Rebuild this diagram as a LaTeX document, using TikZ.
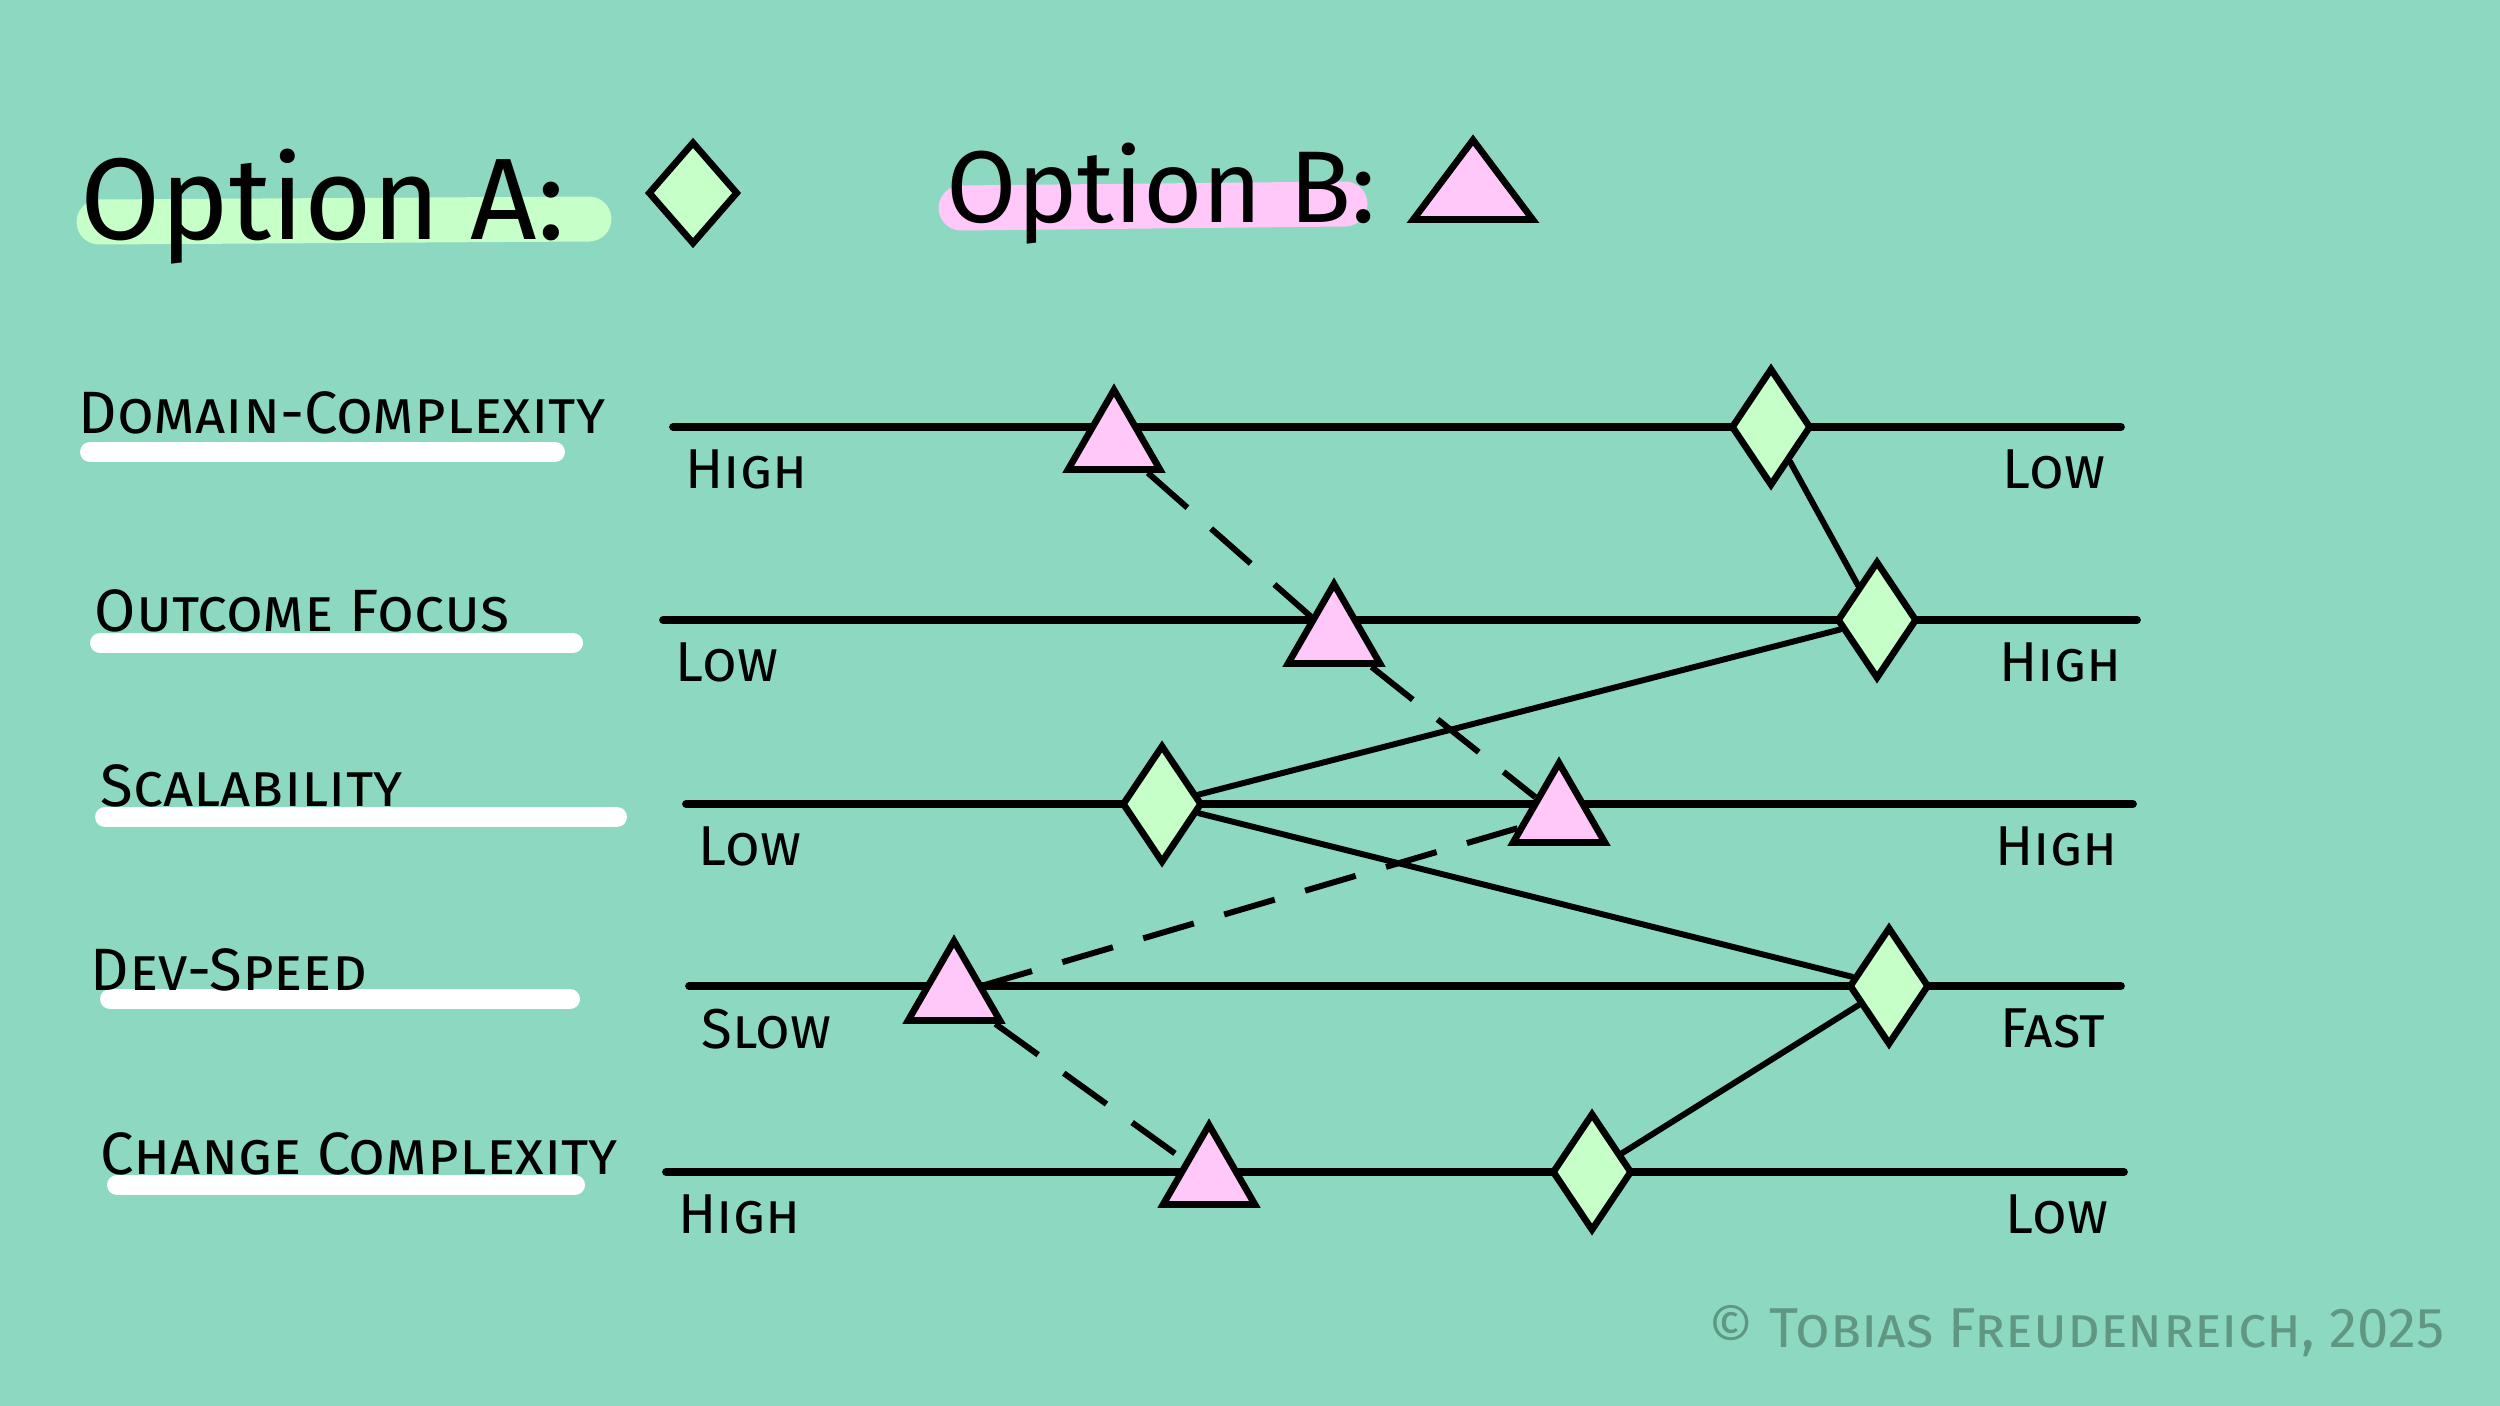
\documentclass[tikz,border=0pt]{standalone}
\usepackage{fontspec}
\setmainfont{Fira Sans}
\usetikzlibrary{shapes.geometric, positioning}

\definecolor{bgmint}{HTML}{8DD8C0}
\definecolor{optgreen}{HTML}{C6FFC8}
\definecolor{optpink}{HTML}{FFC8F9}
\definecolor{signteal}{HTML}{5F9783}

\begin{document}
\begin{tikzpicture}[
  axis/.style={line width=2.2pt, line cap=round},
  optA/.style={diamond, draw, fill=optgreen, line width=1.9pt, inner sep=0pt,
               minimum width=0.8cm, minimum height=1.18cm},
  optB/.style={regular polygon, regular polygon sides=3, draw, fill=optpink,
               line width=1.9pt, inner sep=0pt, minimum size=1.06cm},
  linkA/.style={line width=1.7pt, line cap=round},
  linkB/.style={line width=1.7pt, dash pattern=on 15pt off 9pt},
  catlbl/.style={font=\fontsize{17}{20}\selectfont\scshape, anchor=base west, inner sep=0pt},
  endlbl/.style={font=\fontsize{16}{19}\selectfont\scshape, inner sep=0pt},
  headlbl/.style={font=\fontsize{33}{38}\selectfont, anchor=base west, inner sep=0pt},
  hilite/.style={line width=0.45cm, line cap=round},
  uline/.style={white, line width=0.2cm, line cap=round},
]

%% Background
\fill[bgmint] (0,0) rectangle (25,-14.06);
\useasboundingbox (0,0) rectangle (25,-14.06);

%% Legend
\draw[hilite, optgreen] (0.99,-2.22) -- (5.89,-2.19);
\draw[hilite, optpink] (9.61,-2.08) -- (13.45,-2.04);
\node[headlbl] (headA) at (0.80,-2.40) {Option A:};
\node[headlbl, font=\fontsize{29}{34}\selectfont] (headB) at (9.46,-2.23) {Option B:};
\node[optA, minimum width=0.9cm, minimum height=1.03cm] (keyA) at (6.93,-1.93) {};
\node[optB, xscale=1.3] (keyB) at (14.73,-1.93) {};

%% Criteria (white marker strokes under the names)
\foreach \xa/\xb/\y in {0.90/5.55/4.52, 1.00/5.73/6.43, 1.05/6.17/8.17,
                        1.10/5.70/9.99, 1.17/5.75/11.85}
  \draw[uline] (\xa,-\y) -- (\xb,-\y);

\node[catlbl] (dom) at (0.78,-4.33) {Domain-Complexity};
\node[catlbl] (out) at (0.94,-6.31) {Outcome Focus};
\node[catlbl] (scal) at (1.00,-8.06) {Scalability};
\node[catlbl] (dev) at (0.90,-9.90) {Dev-Speed};
\node[catlbl] (chg) at (1.00,-11.74) {Change Complexity};

%% Scales
\foreach \i/\y/\xa/\xb in {1/4.27/6.73/21.21, 2/6.20/6.63/21.37, 3/8.04/6.86/21.33,
                           4/9.86/6.89/21.21, 5/11.72/6.66/21.24}
  \draw[axis] (\xa,-\y) coordinate (l\i) -- (\xb,-\y) coordinate (r\i);

\foreach \i/\lo/\hi in {1/High/Low, 2/Low/High, 3/Low/High, 4/Slow/Fast, 5/High/Low} {
  \node[endlbl, below right=0.22cm and 0.12cm of l\i] (lt\i) {\lo};
  \node[endlbl, below left=0.22cm and 0.15cm of r\i] (rt\i) {\hi};
}

%% Option A (diamonds)
\node[optA] (a1) at (17.71,-4.27) {};
\node[optA] (a2) at (18.77,-6.20) {};
\node[optA] (a3) at (11.62,-8.04) {};
\node[optA] (a4) at (18.89,-9.86) {};
\node[optA] (a5) at (15.92,-11.72) {};

%% Option B (triangles)
\node[optB] (b1) at (11.14,-4.43) {};
\node[optB] (b2) at (13.34,-6.37) {};
\node[optB] (b3) at (15.59,-8.16) {};
\node[optB] (b4) at (9.54,-9.94) {};
\node[optB] (b5) at (12.09,-11.78) {};

%% Profiles
\foreach \p/\q in {1/2, 2/3, 3/4, 4/5} {
  \draw[linkA] (a\p) -- (a\q);
  \draw[linkB] (b\p) -- (b\q);
}

%% Signature
\node[font=\fontsize{16}{19}\selectfont\scshape, text=signteal, anchor=base east,
      inner sep=0pt] (sign) at (24.45,-13.47) {© Tobias Freudenreich, 2025};

\end{tikzpicture}
\end{document}
